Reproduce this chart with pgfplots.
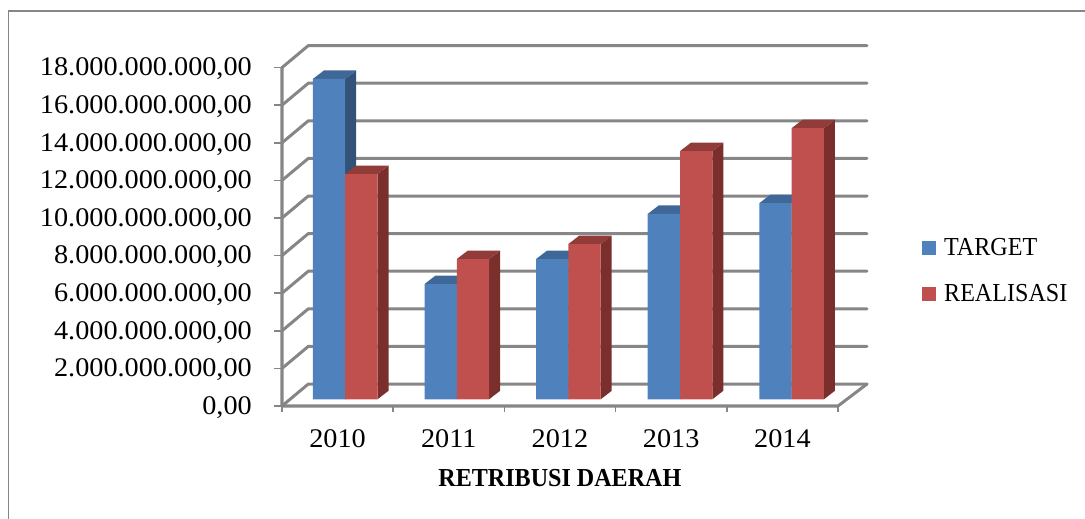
\documentclass[border=0pt]{standalone}
\usepackage{pgfplots}
\pgfplotsset{compat=1.18}
\usepackage{fontspec}
\setmainfont{Liberation Serif}
\newfontfamily\numfont[FakeStretch=1.05]{Liberation Serif}
\newfontfamily\narfont[FakeStretch=0.93]{Liberation Serif}
\definecolor{gridc}{HTML}{868686}
\definecolor{blueF}{HTML}{4F81BD}
\definecolor{blueT}{HTML}{3F6797}
\definecolor{blueS}{HTML}{33527A}
\definecolor{redF}{HTML}{C0504D}
\definecolor{redT}{HTML}{913C39}
\definecolor{redS}{HTML}{7A2F2D}
\pgfplotsset{
  wall/.style={draw=gridc,line width=3bp,line cap=round,line join=round,no marks,forget plot},
  sideB/.style={fill=blueS,draw=none,no marks,forget plot},
  topB/.style={fill=blueT,draw=none,no marks,forget plot},
  sideR/.style={fill=redS,draw=none,no marks,forget plot},
  topR/.style={fill=redT,draw=none,no marks,forget plot},
}
\begin{document}
\begin{tikzpicture}
\path[use as bounding box] (0,0) rectangle (1085bp,519bp);
\draw[gridc,line width=1.6bp] (8.5bp,0bp) -- (8.5bp,508bp) -- (1085bp,508bp);
% frame: ticks, labels, walls
\begin{axis}[
  at={(282bp,113bp)},anchor=south west,
  scale only axis,width=585bp,height=360.3bp,
  xmin=2009.5,xmax=2014.761,ymin=0,ymax=19165000000,
  clip=false,
  axis x line=bottom,axis y line=left,
  axis line style={draw=none,-},
  xtick={2010,2011,2012,2013,2014},
  xticklabels={2010,2011,2012,2013,2014},
  minor xtick={2009.5,2010.5,2011.5,2012.5,2013.5,2014.5},
  major x tick style={draw=none},
  minor x tick style={draw=gridc,line width=1.6bp},
  minor tick length=6bp,
  ytick={0,2000000000,4000000000,6000000000,8000000000,10000000000,12000000000,14000000000,16000000000,18000000000},
  yticklabels={{0,00},{2.000.000.000,00},{4.000.000.000,00},{6.000.000.000,00},{8.000.000.000,00},{10.000.000.000,00},{12.000.000.000,00},{14.000.000.000,00},{16.000.000.000,00},{18.000.000.000,00}},
  scaled y ticks=false,
  y tick style={draw=gridc,line width=1.6bp},
  major tick length=8bp,
  tick align=outside,
  tick label style={font=\numfont\fontsize{27}{27}\selectfont,text=black},
  yticklabel style={inner sep=0pt,xshift=-22bp,yshift=-1.5bp},
  xticklabel style={inner sep=0pt,yshift=-15bp},
  xlabel={\narfont\bfseries RETRIBUSI DAERAH},
  xlabel style={font=\fontsize{26}{26}\selectfont,inner sep=0pt,at={(axis description cs:0.475,-0.2)},anchor=center},
]
\addplot[wall] coordinates {(2009.5,0) (2009.7365,1170000000) (2014.761,1170000000)};
\addplot[wall] coordinates {(2009.5,2000000000) (2009.7365,3170000000) (2014.761,3170000000)};
\addplot[wall] coordinates {(2009.5,4000000000) (2009.7365,5170000000) (2014.761,5170000000)};
\addplot[wall] coordinates {(2009.5,6000000000) (2009.7365,7170000000) (2014.761,7170000000)};
\addplot[wall] coordinates {(2009.5,8000000000) (2009.7365,9170000000) (2014.761,9170000000)};
\addplot[wall] coordinates {(2009.5,10000000000) (2009.7365,11170000000) (2014.761,11170000000)};
\addplot[wall] coordinates {(2009.5,12000000000) (2009.7365,13170000000) (2014.761,13170000000)};
\addplot[wall] coordinates {(2009.5,14000000000) (2009.7365,15170000000) (2014.761,15170000000)};
\addplot[wall] coordinates {(2009.5,16000000000) (2009.7365,17170000000) (2014.761,17170000000)};
\addplot[wall] coordinates {(2009.5,18000000000) (2009.7365,19170000000) (2014.761,19170000000)};
\addplot[wall] coordinates {(2009.5,18000000000) (2009.5,0) (2014.5,0) (2014.761,1170000000)};
\end{axis}
% bars
\begin{axis}[
  at={(289.4bp,119.7bp)},anchor=south west,
  scale only axis,width=558bp,height=338.4bp,
  xmin=2009.5,xmax=2014.5,ymin=0,ymax=18000000000,
  clip=false,
  axis lines=none,
  legend style={at={(1.134,0.482)},anchor=north west,draw=none,fill=none,inner sep=0pt,outer sep=0pt,
    font=\narfont\fontsize{26}{26}\selectfont,row sep=24bp,
    /tikz/every even column/.append style={column sep=0pt}},
  legend cell align=left,
  legend image code/.code={\fill[#1] (0bp,-7bp) rectangle (14bp,7bp);},
]
% TARGET side, top
\addplot[sideB] coordinates {(2010,0) (2010.0986,452000000) (2010.0986,17492000000) (2010,17040000000)} -- cycle;
\addplot[topB] coordinates {(2009.7106,17040000000) (2009.8092,17492000000) (2010.0986,17492000000) (2010,17040000000)} -- cycle;
\addplot[sideB] coordinates {(2011,0) (2011.0986,452000000) (2011.0986,6582000000) (2011,6130000000)} -- cycle;
\addplot[topB] coordinates {(2010.7106,6130000000) (2010.8092,6582000000) (2011.0986,6582000000) (2011,6130000000)} -- cycle;
\addplot[sideB] coordinates {(2012,0) (2012.0986,452000000) (2012.0986,7912000000) (2012,7460000000)} -- cycle;
\addplot[topB] coordinates {(2011.7106,7460000000) (2011.8092,7912000000) (2012.0986,7912000000) (2012,7460000000)} -- cycle;
\addplot[sideB] coordinates {(2013,0) (2013.0986,452000000) (2013.0986,10312000000) (2013,9860000000)} -- cycle;
\addplot[topB] coordinates {(2012.7106,9860000000) (2012.8092,10312000000) (2013.0986,10312000000) (2013,9860000000)} -- cycle;
\addplot[sideB] coordinates {(2014,0) (2014.0986,452000000) (2014.0986,10882000000) (2014,10430000000)} -- cycle;
\addplot[topB] coordinates {(2013.7106,10430000000) (2013.8092,10882000000) (2014.0986,10882000000) (2014,10430000000)} -- cycle;
% REALISASI side, top
\addplot[sideR] coordinates {(2010.2894,0) (2010.388,452000000) (2010.388,12432000000) (2010.2894,11980000000)} -- cycle;
\addplot[topR] coordinates {(2010,11980000000) (2010.0986,12432000000) (2010.388,12432000000) (2010.2894,11980000000)} -- cycle;
\addplot[sideR] coordinates {(2011.2894,0) (2011.388,452000000) (2011.388,7912000000) (2011.2894,7460000000)} -- cycle;
\addplot[topR] coordinates {(2011,7460000000) (2011.0986,7912000000) (2011.388,7912000000) (2011.2894,7460000000)} -- cycle;
\addplot[sideR] coordinates {(2012.2894,0) (2012.388,452000000) (2012.388,8712000000) (2012.2894,8260000000)} -- cycle;
\addplot[topR] coordinates {(2012,8260000000) (2012.0986,8712000000) (2012.388,8712000000) (2012.2894,8260000000)} -- cycle;
\addplot[sideR] coordinates {(2013.2894,0) (2013.388,452000000) (2013.388,13652000000) (2013.2894,13200000000)} -- cycle;
\addplot[topR] coordinates {(2013,13200000000) (2013.0986,13652000000) (2013.388,13652000000) (2013.2894,13200000000)} -- cycle;
\addplot[sideR] coordinates {(2014.2894,0) (2014.388,452000000) (2014.388,14872000000) (2014.2894,14420000000)} -- cycle;
\addplot[topR] coordinates {(2014,14420000000) (2014.0986,14872000000) (2014.388,14872000000) (2014.2894,14420000000)} -- cycle;
% front faces
\addplot[ybar,bar width=32.3bp,bar shift=-16.15bp,fill=blueF,draw=none] coordinates {(2010,17040000000) (2011,6130000000) (2012,7460000000) (2013,9860000000) (2014,10430000000)};
\addplot[ybar,bar width=32.3bp,bar shift=16.15bp,fill=redF,draw=none] coordinates {(2010,11980000000) (2011,7460000000) (2012,8260000000) (2013,13200000000) (2014,14420000000)};
\legend{\ TARGET,\ REALISASI}
\end{axis}
\end{tikzpicture}
\end{document}
